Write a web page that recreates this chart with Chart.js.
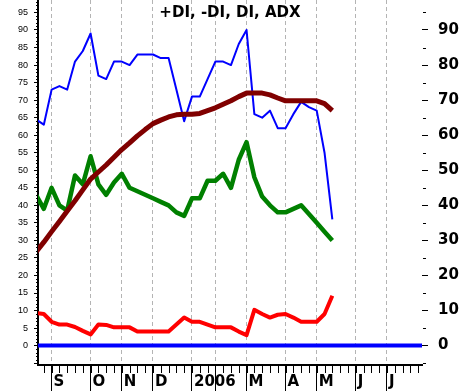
<!DOCTYPE html>
<html>
<head>
<meta charset="utf-8">
<title>+DI, -DI, DI, ADX</title>
<script src="https://cdn.jsdelivr.net/npm/chart.js@4/dist/chart.umd.min.js"></script>
<style>
html, body { margin: 0; padding: 0; background: #fff; }
#wrap { width: 460px; height: 391px; position: relative; }
</style>
</head>
<body>
<div id="wrap"><canvas id="diChart"></canvas></div>
<script>
// week number of every point (week 0 = first full week on the chart)
const weeks = [-1, 0, 1, 2, 3, 4, 5, 6, 7, 8, 9, 10, 11, 12, 13, 14, 15, 16, 17, 18, 19,
    20, 21, 22, 23, 24, 25, 26, 27, 28, 29, 30, 31, 32, 33, 34, 35, 36, 37];

const plusDI = [64.5, 63, 73, 74, 73, 81, 84, 89, 77, 76, 81, 81, 80, 83, 83, 83, 82, 82, 73, 64, 71,
    71, 76, 81, 81, 80, 86, 90, 66, 65, 67, 62, 62, 66, 69.5, 68, 67, 55, 36];
const minusDI = [43, 39, 45, 40, 38.5, 48.5, 46, 54, 46, 43, 46.5, 49, 45, 44, 43, 42, 41, 40, 38, 37, 42,
    42, 47, 47, 49, 45, 53, 58, 48, 42.5, 40, 38, 38, 39, 40, 37.5, 35, 32.5, 30];
const di = [9.3, 9, 6.8, 6, 6, 5.3, 4.2, 3.2, 6, 5.9, 5.2, 5.2, 5.2, 4, 4, 4, 4, 4, 6, 8, 6.8,
    6.8, 6, 5.2, 5.2, 5.2, 4, 3, 10.2, 9, 8, 8.8, 9, 8, 6.8, 6.8, 6.8, 9, 14.2];
const adx = [26.7, 29.5, 32.5, 35.4, 38.4, 41.3, 44.4, 47.5, 49.5, 51.5, 53.7, 55.9, 57.8, 59.8, 61.6, 63.3, 64.3, 65.2, 65.8, 66, 66,
    66.2, 67, 67.8, 68.8, 69.8, 71, 72, 72, 72, 71.5, 70.6, 69.8, 69.8, 69.8, 69.8, 69.8, 69, 67];
const zeroLine = [0, 0];

// month starts (in weeks) and their labels
const monthWeeks = [1, 6, 10, 14, 19, 22, 26, 31, 35, 40, 44];
const monthLabels = ['S', 'O', 'N', 'D', '2006', '', 'M', 'A', 'M', 'J', 'J'];
const leftTicks = [-5, 0, 5, 10, 15, 20, 25, 30, 35, 40, 45, 50, 55, 60, 65, 70, 75, 80, 85, 90, 95];
const rightTicks = [0, 10, 20, 30, 40, 50, 60, 70, 80, 90];
const titleText = '+DI, -DI, DI, ADX';

const X_MIN = -0.745, X_MAX = 48.5;
const Y_MIN = -5.53, Y_MAX = 98.55;

function pts(vals) {
    return vals.map((v, k) => ({ x: weeks[k], y: v }));
}

function fixBox(size) {
    return function(scale) {
        if (scale.isHorizontal()) scale.height = size; else scale.width = size;
        scale.paddingTop = 0;
        scale.paddingBottom = 0;
        scale.paddingLeft = 0;
        scale.paddingRight = 0;
    };
}

// small tick marks + title inside the plot
const extraMarks = {
    id: 'extraMarks',
    afterDraw(chart) {
        const { ctx, chartArea, scales } = chart;
        const x = scales.x, y = scales.y;
        ctx.save();
        ctx.strokeStyle = '#000';
        ctx.lineWidth = 1;
        ctx.beginPath();
        for (let w = 0; w <= 48; w++) {
            const px = Math.round(x.getPixelForValue(w)) + 0.5;
            ctx.moveTo(px, chartArea.bottom);
            ctx.lineTo(px, chartArea.bottom + 8);
        }
        for (let v = -5; v <= 98; v++) {
            if (v % 5 === 0) continue;
            const py = Math.round(y.getPixelForValue(v)) + 0.5;
            ctx.moveTo(chartArea.left - 2, py);
            ctx.lineTo(chartArea.left, py);
        }
        for (let v = -5; v <= 95; v += 10) {
            const py = Math.round(y.getPixelForValue(v)) + 0.5;
            ctx.moveTo(chartArea.right + 1, py);
            ctx.lineTo(chartArea.right + 4, py);
        }
        ctx.stroke();

        ctx.fillStyle = '#000';
        ctx.font = 'bold 15px "DejaVu Sans"';
        ctx.textAlign = 'center';
        ctx.textBaseline = 'middle';
        ctx.fillText(titleText, (chartArea.left + chartArea.right) / 2, 13);
        ctx.restore();
    }
};

const lineStyle = {
    pointRadius: 0,
    pointHoverRadius: 0,
    tension: 0,
    fill: false,
    clip: 0,
    borderJoinStyle: 'round'
};

new Chart(document.getElementById('diChart'), {
    type: 'line',
    data: {
        datasets: [
            { ...lineStyle, label: 'ADX', data: pts(adx), borderColor: '#800000', borderWidth: 5 },
            { ...lineStyle, label: '+DI', data: pts(plusDI), borderColor: '#0000ff', borderWidth: 2 },
            { ...lineStyle, label: '-DI', data: pts(minusDI), borderColor: '#008000', borderWidth: 4.5 },
            { ...lineStyle, label: 'DI', data: pts(di), borderColor: '#ff0000', borderWidth: 4 },
            { ...lineStyle, label: '0', data: [{ x: X_MIN, y: zeroLine[0] }, { x: X_MAX, y: zeroLine[1] }],
              borderColor: '#0000ff', borderWidth: 4 }
        ]
    },
    options: {
        responsive: true,
        maintainAspectRatio: false,
        animation: false,
        layout: { padding: 0 },
        plugins: {
            legend: { display: false },
            tooltip: { enabled: false },
            title: { display: false }
        },
        scales: {
            x: {
                type: 'linear',
                position: 'bottom',
                min: X_MIN,
                max: X_MAX,
                afterBuildTicks: s => { s.ticks = monthWeeks.map(v => ({ value: v })); },
                afterFit: fixBox(26),
                ticks: {
                    autoSkip: false,
                    maxRotation: 0,
                    align: 'start',
                    labelOffset: 2,
                    padding: -18,
                    color: '#000',
                    font: { family: 'DejaVu Sans', weight: 'bold', size: 15 },
                    callback: v => {
                        const k = monthWeeks.indexOf(v);
                        return k >= 0 ? monthLabels[k] : '';
                    }
                },
                grid: {
                    color: '#b4b4b4',
                    lineWidth: 1,
                    tickLength: 26,
                    tickColor: '#000',
                    tickWidth: 1,
                    tickBorderDash: []
                },
                border: { display: true, color: '#000', width: 2, dash: [4, 3] }
            },
            y: {
                type: 'linear',
                position: 'left',
                min: Y_MIN,
                max: Y_MAX,
                afterBuildTicks: s => { s.ticks = leftTicks.map(v => ({ value: v })); },
                afterFit: fixBox(38),
                ticks: {
                    autoSkip: false,
                    padding: 6,
                    color: '#000',
                    font: { family: 'Liberation Sans', size: 9 },
                    callback: v => (v < 0 ? '' : String(v))
                },
                grid: { drawOnChartArea: false, tickLength: 4, tickColor: '#000', tickWidth: 1 },
                border: { color: '#000', width: 2 }
            },
            y2: {
                type: 'linear',
                position: 'right',
                min: Y_MIN,
                max: Y_MAX,
                afterBuildTicks: s => { s.ticks = rightTicks.map(v => ({ value: v })); },
                afterFit: fixBox(38),
                ticks: {
                    autoSkip: false,
                    padding: 10,
                    color: '#000',
                    font: { family: 'DejaVu Sans', weight: 'bold', size: 15 },
                    callback: v => String(v)
                },
                grid: { drawOnChartArea: false, tickLength: 6, tickColor: '#000', tickWidth: 1 },
                border: { display: false }
            }
        }
    },
    plugins: [extraMarks]
});
</script>
</body>
</html>
